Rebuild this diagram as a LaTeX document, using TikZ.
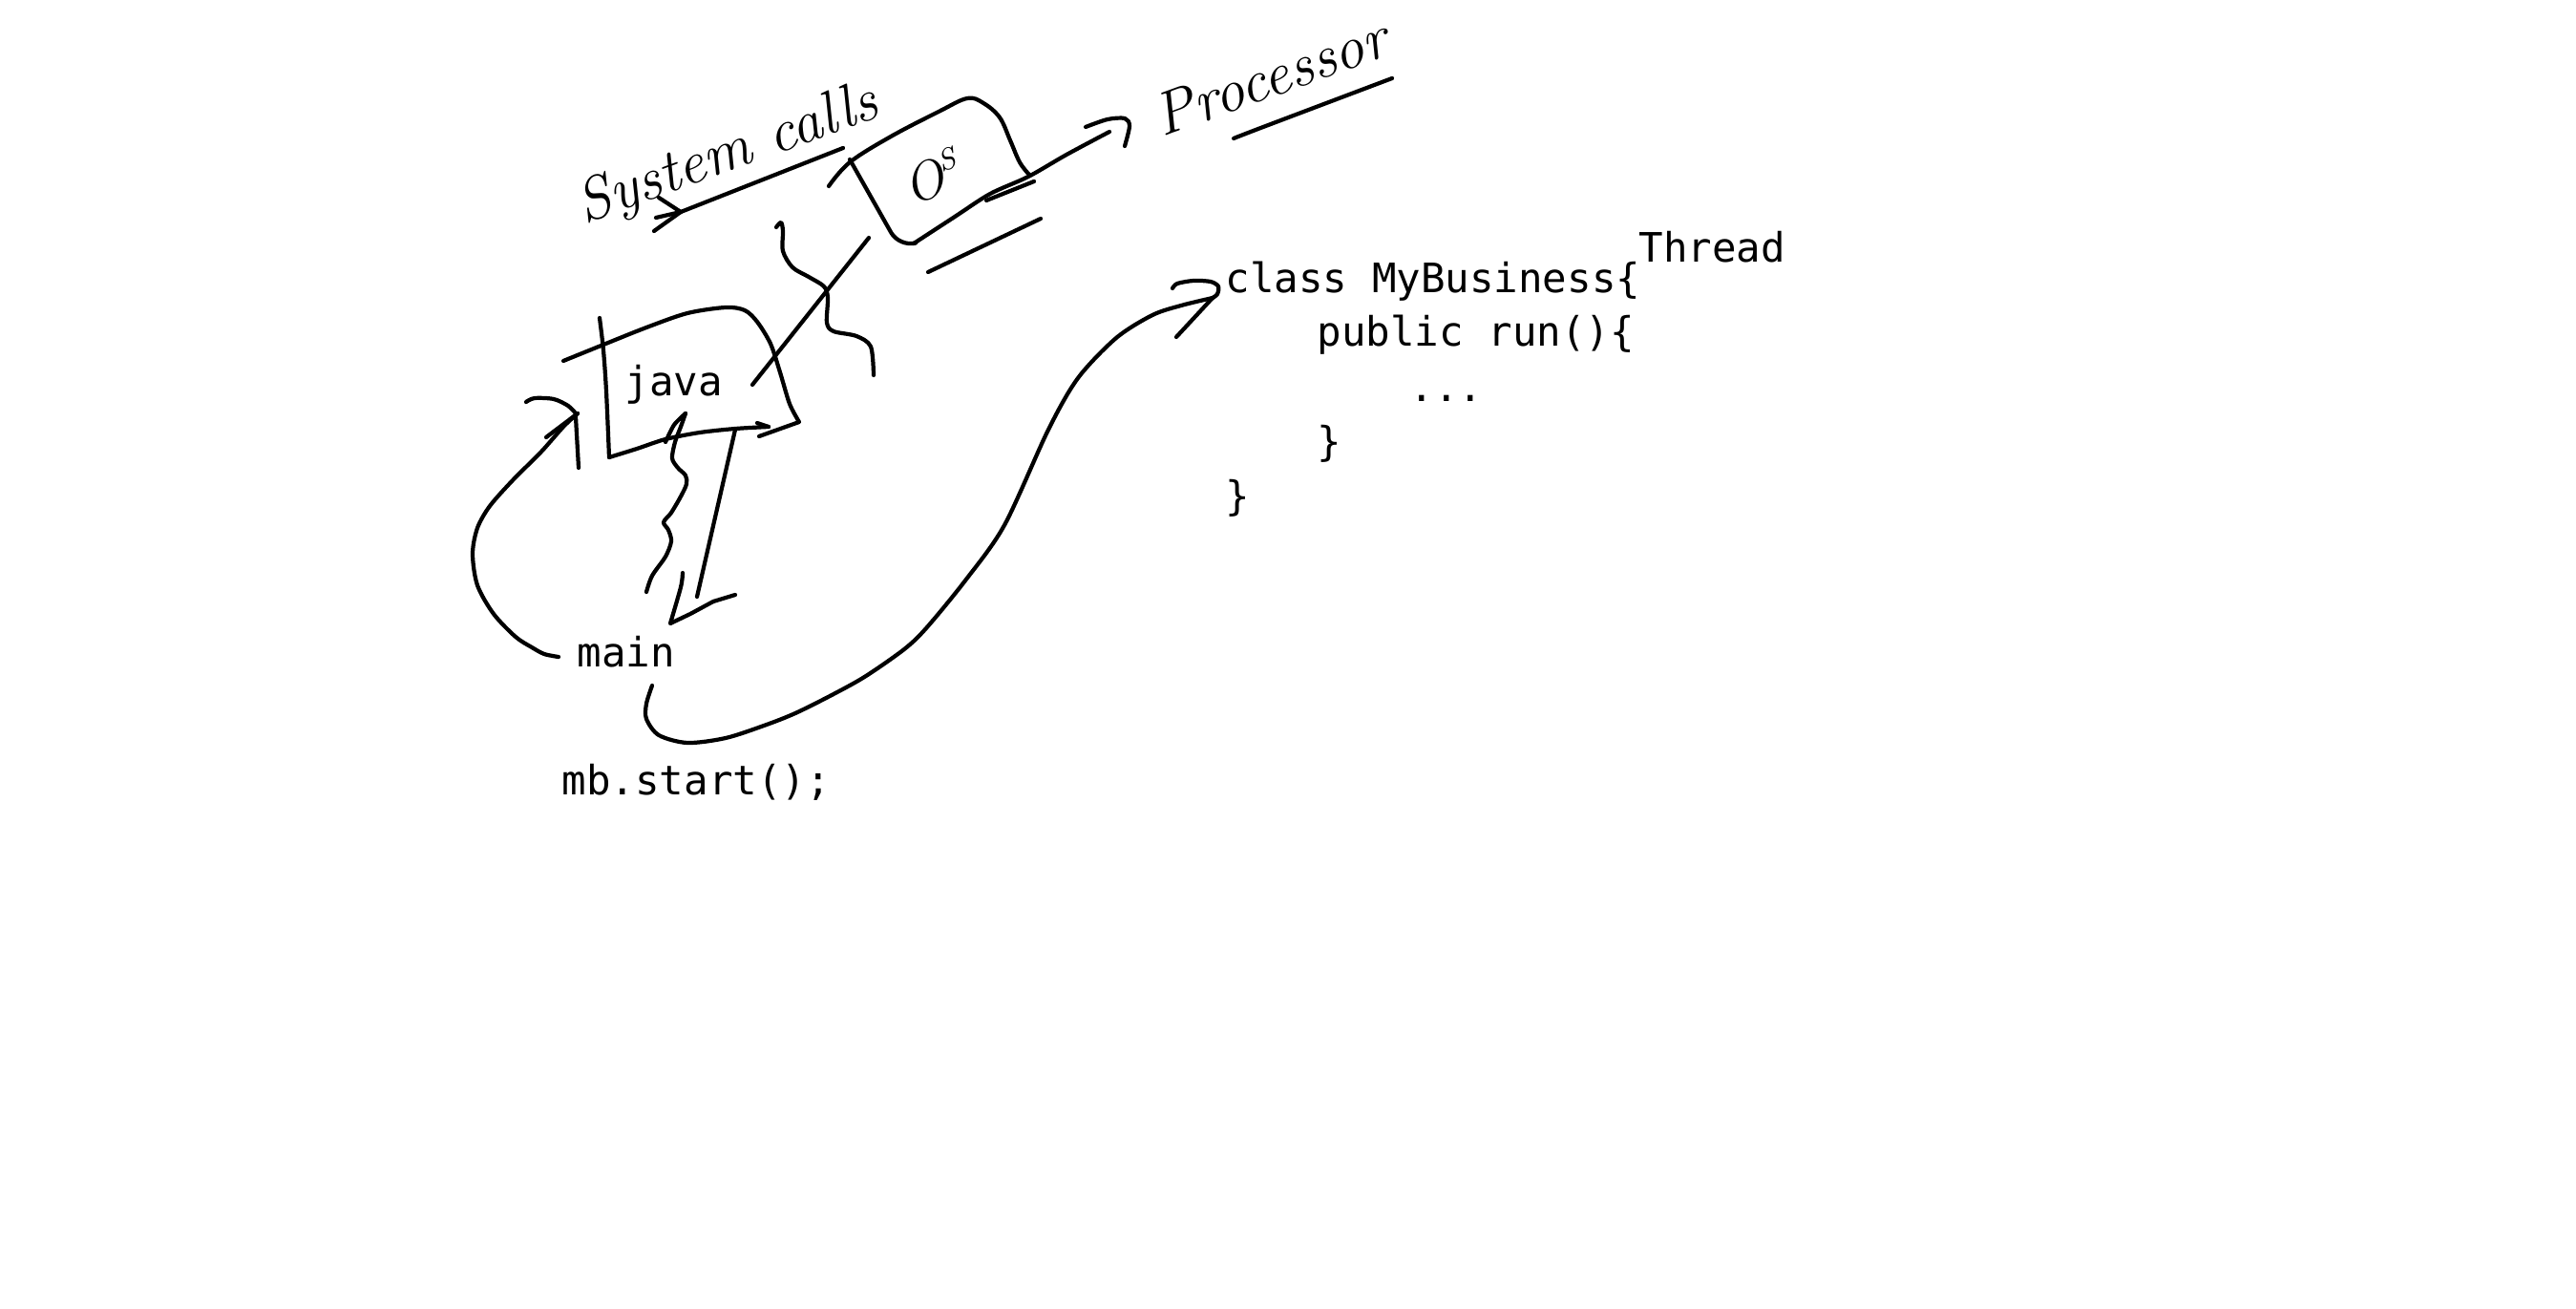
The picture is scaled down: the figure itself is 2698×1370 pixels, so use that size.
\documentclass[tikz,border=0pt]{standalone}
\usepackage{fontspec}
\setmonofont{DejaVu Sans Mono}
\begin{document}
\begin{tikzpicture}[x=0.01cm,y=-0.01cm,
  stroke/.style={line width=1.2pt,line cap=round,line join=round},
  code/.style={font=\ttfamily\fontsize{12.07pt}{14pt}\selectfont,anchor=base west,inner sep=0pt},
  hand/.style={font=\itshape\fontsize{18pt}{20pt}\selectfont,anchor=base,inner sep=0pt}]
\useasboundingbox[fill=white] (0,0) rectangle (2698,1370);

% ---- code text ----
\node[code] (thread) at (1716,275) {Thread};
\node[code] (cls) at (1283,307) {class MyBusiness\{};
\node[code] (pub) at (1379,363) {public run()\{};
\node[code] (dots) at (1476,420) {...};
\node[code] (cb1) at (1379,477) {\}};
\node[code] (cb2) at (1283,534) {\}};
\node[code] (java) at (654,414) {java};
\node[code] (main) at (604,698) {main};
\node[code] (mb) at (588,832) {mb.start();};

% ---- handwritten labels ----
\node[hand,rotate=20] (sys) at (768,178) {System calls};
\node[hand,rotate=20] (proc) at (1338,100) {Processor};
\node[hand,rotate=20,font=\itshape\fontsize{16pt}{18pt}\selectfont] (os) at (983,205) {O\raisebox{0.9ex}{\small S}};

% ---- named end points ----
\coordinate (scA) at (883,155);
\coordinate (scB) at (713,222);
\coordinate (osTip) at (1162,138);
\coordinate (jTop) at (910,249);
\coordinate (jLow) at (788,403);
\coordinate (mjStart) at (585,688);
\coordinate (mjTip) at (605,433);
\coordinate (jmTip) at (702,653);
\coordinate (mcStart) at (683,718);
\coordinate (mcTip) at (1270,312);

% System calls underline with arrow
\draw[stroke] (scA) -- (scB);
\draw[stroke] (690,207) -- (scB) -- (685,242);
\draw[stroke] (scB) -- (687,228);

% OS box
\draw[stroke] plot[smooth,tension=0.6] coordinates {(868,195) (890,170) (933,143) (983,117) (1013,103) (1030,108) (1047,123) (1058,147) (1068,170) (1078,183)};
\draw[stroke,rounded corners=5] (890,167) -- (942,259) -- (957,255);
\draw[stroke] plot[smooth] coordinates {(957,255) (1000,227) (1037,203) (1077,185) (1117,162) (osTip)};
\draw[stroke] plot[smooth] coordinates {(1137,133) (1160,125) (1178,124) (1183,132) (1178,153)};
\draw[stroke] (1033,210) -- (1083,190);
\draw[stroke] (972,285) -- (1090,229);

% Processor underline
\draw[stroke] plot[smooth] coordinates {(1292,145) (1323,133) (1458,82)};

% java -> OS line and wavy line
\draw[stroke] (jLow) -- (jTop);
\draw[stroke] plot[smooth] coordinates {(813,238) (818,233) (820,242) (820,263) (830,280) (847,290) (863,300) (867,312) (866,338) (873,347) (897,352) (912,363) (915,393)};

% java box
\draw[stroke] plot[smooth] coordinates {(590,378) (627,363) (677,343) (720,328) (760,322) (780,325) (793,337) (807,360) (817,390) (827,423) (837,442)} -- (795,457);
\draw[stroke] plot[smooth] coordinates {(628,333) (632,367) (635,410) (638,479)};
\draw[stroke] plot[smooth] coordinates {(638,479) (667,470) (697,460) (733,453) (770,449) (805,447)};
\draw[stroke] (793,443) -- (805,447);

% main -> java curve
\draw[stroke] plot[smooth] coordinates {(mjStart) (570,685) (557,678) (540,667) (517,643) (500,613) (495,580) (500,553) (513,530) (537,503) (567,473) (590,447) (mjTip)};
\draw[stroke] (572,458) -- (mjTip);
\draw[stroke] (603,437) -- (606,490);
\draw[stroke] plot[smooth] coordinates {(551,421) (560,417) (580,418) (595,425) (603,433)};

% java -> main wavy line
\draw[stroke] plot[smooth] coordinates {(697,463) (706,445) (718,433)};
\draw[stroke] plot[smooth] coordinates {(718,433) (713,447) (707,463) (704,480) (710,490) (718,498) (719,507) (713,520) (703,537) (695,547) (700,555) (703,567) (697,583) (683,603) (677,620)};

% java -> main straight arrow
\draw[stroke] (770,450) -- (730,625);
\draw[stroke] plot[smooth] coordinates {(715,600) (713,615) (jmTip)} -- (723,643) -- (747,630) -- (770,623);

% main -> class curve
\draw[stroke] plot[smooth] coordinates {(mcStart) (677,737) (677,753) (690,770) (720,778) (760,773) (800,760) (833,747) (873,727) (907,708) (947,680) (970,658) (1011,608) (1052,550) (1098,450) (1129,396) (1169,354) (1207,330) (1237,320) (mcTip)};
\draw[stroke] plot[smooth] coordinates {(1228,302) (1233,297) (1250,294) (1268,295) (1276,300) (1275,308) (mcTip)};
\draw[stroke] (mcTip) -- (1232,353);
\end{tikzpicture}
\end{document}
